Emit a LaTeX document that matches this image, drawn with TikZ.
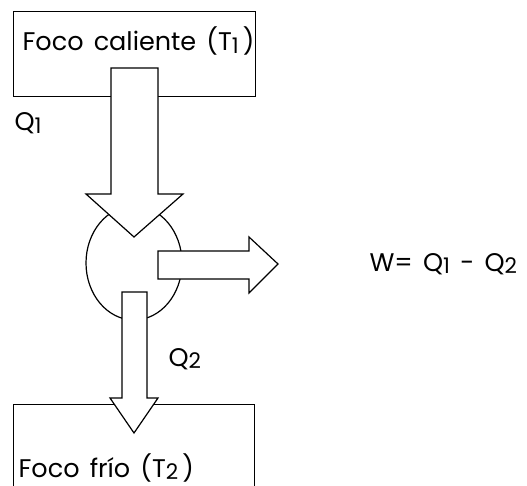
\documentclass[tikz,border=0pt]{standalone}
\usepackage{fontspec}
\setmainfont[WordSpace=1.5]{Poppins}
\usetikzlibrary{shapes.geometric}
\newcommand\lowdig[1]{\raisebox{-2.5pt}{\fontsize{21.5}{21.5}\selectfont #1}}
\begin{document}
\begin{tikzpicture}[x=1pt,y=-1pt,line width=1.2pt,
  lbl/.style={anchor=base west,inner sep=0pt,font=\fontsize{25.5}{27}\selectfont},
  blockarrow/.style={draw,fill=white,line join=miter}]
\useasboundingbox (0,0) rectangle (527,486);
\clip (0,0) rectangle (527,486);
% hot reservoir
\node[draw,rectangle,minimum width=242pt,minimum height=85pt,anchor=north west,inner sep=0pt] (hot) at (13,11) {};
\node[lbl] (hottxt) at (22,51) {Foco caliente (T\lowdig{1}\,)};
% engine
\node[draw,ellipse,minimum width=96pt,minimum height=114pt,inner sep=0pt] (eng) at (134,263) {};
% arrow Q1
\draw[blockarrow] (111,68) -- (158,68) -- (158,194) -- (183,194) -- (134,237) -- (86,194) -- (111,194) -- cycle;
% arrow W
\draw[blockarrow] (158,251) -- (249,251) -- (249,237) -- (278,264) -- (249,293) -- (249,279) -- (158,279) -- cycle;
% cold reservoir
\node[draw,rectangle,minimum width=241pt,minimum height=120pt,anchor=north west,inner sep=0pt] (cold) at (13,404) {};
% arrow Q2
\draw[blockarrow] (122,292) -- (147,292) -- (147,398) -- (158,398) -- (134,433) -- (110,398) -- (122,398) -- cycle;
\node[lbl] (coldtxt) at (18,477) {Foco frío (T\lowdig{2}\,)};
% labels
\node[lbl] (q1) at (14,131) {Q\lowdig{1}};
\node[lbl] (q2) at (168,366) {Q\lowdig{2}};
\node[lbl] (w) at (369,271) {W= Q\lowdig{1} - Q\lowdig{2}};
\end{tikzpicture}
\end{document}
